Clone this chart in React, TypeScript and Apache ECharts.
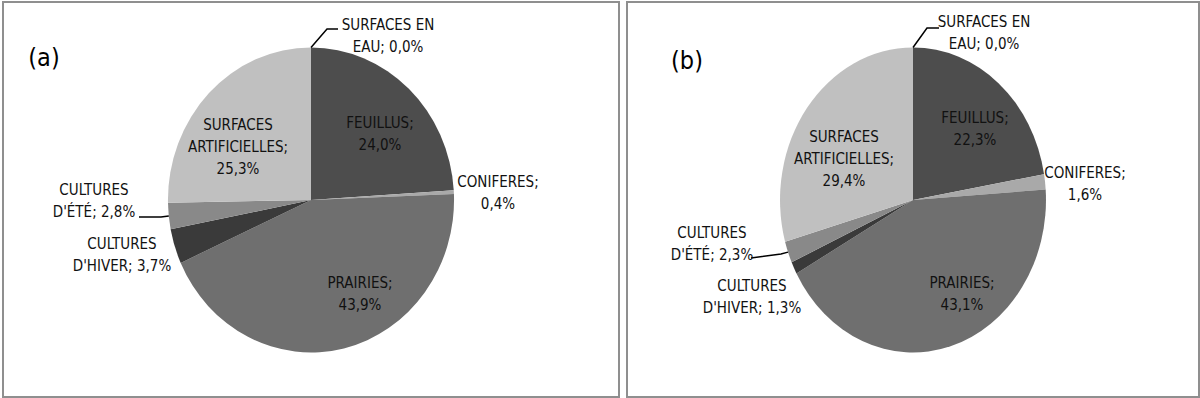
import React, { useEffect, useRef } from "react";
import * as echarts from "echarts";

// ---- Data ----
const categories = [
  "SURFACES EN EAU",
  "FEUILLUS",
  "CONIFERES",
  "PRAIRIES",
  "CULTURES D'HIVER",
  "CULTURES D'ÉTÉ",
  "SURFACES ARTIFICIELLES",
];
const labelPrefixes = [
  "SURFACES EN\nEAU; ",
  "FEUILLUS;\n",
  "CONIFERES;\n",
  "PRAIRIES;\n",
  "CULTURES\nD'HIVER; ",
  "CULTURES\nD'ÉTÉ; ",
  "SURFACES\nARTIFICIELLES;\n",
];
const valuesA = [0.0, 24.0, 0.4, 43.9, 3.7, 2.8, 25.3];
const valuesB = [0.0, 22.3, 1.6, 43.1, 1.3, 2.3, 29.4];
const panelTitles = ["(a)", "(b)"];

// ---- Styles / layout ----
const sliceColors = ["#9a9a9a", "#4d4d4d", "#a9a9a9", "#6f6f6f", "#3a3a3a", "#898989", "#c0c0c0"];
const FONT = "'Liberation Sans Narrow', 'DejaVu Sans Condensed', 'Roboto', sans-serif";

type Panel = {
  values: number[];
  cx: number;
  cy: number;
  rx: number;
  ry: number;
  title: string;
  titleX: number;
  titleY: number;
  box: [number, number, number, number];
  labels: [number, number][];
  leaders: Record<number, [number, number][]>;
};

const panels: Panel[] = [
  {
    values: valuesA,
    cx: 311,
    cy: 200,
    rx: 143,
    ry: 152.5,
    title: panelTitles[0],
    titleX: 44,
    titleY: 57,
    box: [3, 2, 616, 395],
    labels: [
      [388, 36],
      [380, 133.5],
      [498, 193],
      [360, 293.5],
      [122, 255],
      [94, 201],
      [238, 146.5],
    ],
    leaders: {
      0: [[327, 29], [338, 29]],
      5: [[161, 217], [139, 217]],
    },
  },
  {
    values: valuesB,
    cx: 913,
    cy: 200,
    rx: 133,
    ry: 152.5,
    title: panelTitles[1],
    titleX: 687,
    titleY: 60,
    box: [627, 2, 572, 395],
    labels: [
      [984, 32.5],
      [975, 129],
      [1085, 183.5],
      [962, 294],
      [752, 297],
      [712, 243.5],
      [844, 159],
    ],
    leaders: {
      0: [[927, 28], [939, 28]],
      5: [[781, 254], [751, 258]],
    },
  },
];

const fmt = (v: number) => v.toFixed(1).replace(".", ",") + "%";

function makeSeries(p: Panel) {
  const total = p.values.reduce((a, b) => a + b, 0);
  const cum: number[] = [];
  let acc = 0;
  p.values.forEach((v) => {
    cum.push(acc);
    acc += v;
  });
  return {
    type: "custom",
    coordinateSystem: "none",
    silent: true,
    data: p.values.map((v, i) => ({ value: v, name: categories[i] })),
    renderItem: (params: any, api: any) => {
      const i = params.dataIndex;
      const v = api.value(0) as number;
      const start = -Math.PI / 2 + (cum[i] / total) * Math.PI * 2;
      const end = start + (v / total) * Math.PI * 2;
      const mid = (start + end) / 2;
      const children: any[] = [];
      if (v > 0) {
        children.push({
          type: "sector",
          x: p.cx,
          y: p.cy,
          scaleX: p.rx / p.ry,
          scaleY: 1,
          shape: { cx: 0, cy: 0, r: p.ry, r0: 0, startAngle: start, endAngle: end, clockwise: true },
          style: { fill: sliceColors[i] },
          z2: 1,
        });
      }
      const leader = p.leaders[i];
      if (leader) {
        const ex = p.cx + p.rx * Math.cos(mid);
        const ey = p.cy + p.ry * Math.sin(mid);
        children.push({
          type: "polyline",
          shape: { points: [[ex, ey], ...leader] },
          style: { stroke: "#000", lineWidth: 1.5, fill: null },
          z2: 5,
        });
      }
      const [lx, ly] = p.labels[i];
      children.push({
        type: "text",
        x: lx,
        y: ly,
        style: {
          text: labelPrefixes[i] + fmt(v),
          fill: "#111",
          fontSize: 15,
          lineHeight: 22,
          fontFamily: FONT,
          align: "center",
          verticalAlign: "middle",
        },
        z2: 10,
      });
      return { type: "group", children };
    },
  };
}

export default function App() {
  const ref = useRef<HTMLDivElement>(null);
  useEffect(() => {
    if (!ref.current) return;
    const chart = echarts.init(ref.current, undefined, { renderer: "svg" });
    const graphics: any[] = [];
    panels.forEach((p) => {
      const [bx, by, bw, bh] = p.box;
      graphics.push({
        type: "rect",
        shape: { x: bx, y: by, width: bw, height: bh },
        style: { fill: "#fff", stroke: "#8f8f8f", lineWidth: 2 },
        z: -10,
        silent: true,
      });
      graphics.push({
        type: "text",
        x: p.titleX,
        y: p.titleY,
        style: {
          text: p.title,
          fontSize: 25,
          fontFamily: FONT,
          fill: "#000",
          align: "center",
          verticalAlign: "middle",
        },
        z: 10,
        silent: true,
      });
    });
    chart.setOption({
      animation: false,
      backgroundColor: "#fff",
      graphic: graphics,
      series: panels.map(makeSeries),
    });
    return () => chart.dispose();
  }, []);
  return (
    <div
      ref={ref}
      style={{ position: "fixed", left: 0, top: 0, width: 1200, height: 398, background: "#fff" }}
    />
  );
}
